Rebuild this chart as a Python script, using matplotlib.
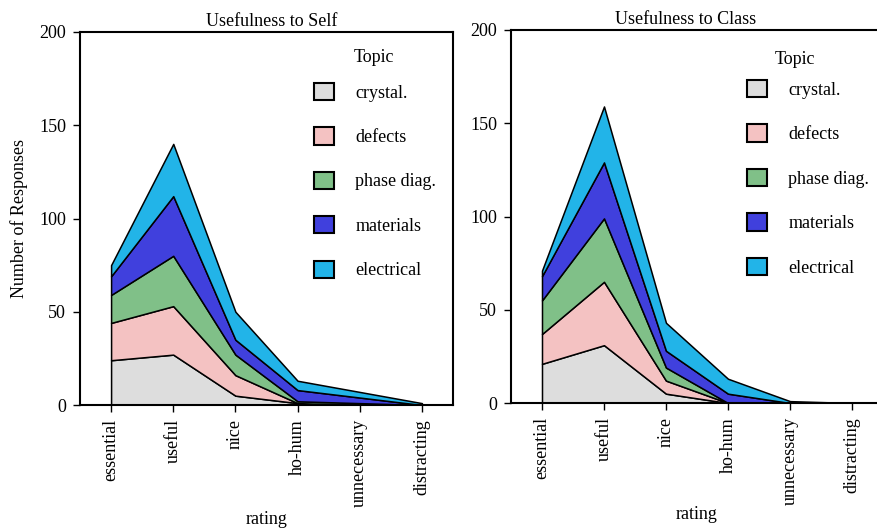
import matplotlib
matplotlib.use("Agg")
import matplotlib.pyplot as plt
from matplotlib.patches import Patch
import numpy as np

ratings = ["essential", "useful", "nice", "ho-hum", "unnecessary", "distracting"]
topics = ["crystal.", "defects", "phase diag.", "materials", "electrical"]
colors = ["#DDDDDD", "#F4C2C2", "#80C088", "#4040DD", "#22B4E8"]

# Usefulness to Self (counts per topic per rating)
self_crystal = [24, 27, 5, 1, 0, 0]
self_defects = [20, 26, 11, 0, 0, 0]
self_phase = [15, 27, 11, 1, 1, 0]
self_materials = [10, 32, 8, 6, 3, 0]
self_electrical = [6, 28, 15, 5, 3, 1]

# Usefulness to Class
class_crystal = [21, 31, 5, 0, 0, 0]
class_defects = [16, 34, 7, 0, 0, 0]
class_phase = [18, 34, 7, 0, 0, 0]
class_materials = [13, 30, 9, 5, 0, 0]
class_electrical = [3, 30, 15, 8, 1, 0]

plt.rcParams['font.family'] = ['Liberation Serif', 'DejaVu Serif']
FS = 13

W, H = 878, 531
fig = plt.figure(figsize=(W / 100, H / 100), dpi=100)


def px_axes(x0, x1, ytop, ybot):
    return fig.add_axes([x0 / W, (H - ybot) / H, (x1 - x0) / W, (ybot - ytop) / H])


def draw(ax, series, title, title_x, legend_x, legend_y, topic_x, topic_y, ylabel, xlab_y):
    x = np.arange(1, len(ratings) + 1)
    ax.stackplot(x, *series, colors=colors, edgecolor="black", linewidth=1.1)
    ax.set_xlim(0.5, 6.5)
    ax.set_ylim(0, 200)
    ax.set_yticks([0, 50, 100, 150, 200])
    ax.set_xticks(x)
    ax.set_xticklabels(ratings, rotation=90, fontsize=FS)
    ax.tick_params(axis="y", labelsize=FS, length=5, width=1, pad=5)
    ax.tick_params(axis="x", length=5, width=1, pad=5)
    for s in ax.spines.values():
        s.set_linewidth(1.5)
    ax.set_xlabel("rating", fontsize=FS)
    ax.xaxis.set_label_coords(0.5, xlab_y)
    if ylabel:
        ax.set_ylabel("Number of Responses", fontsize=FS)
        ax.yaxis.set_label_coords(-0.14, 0.5)
    ax.set_title(title, fontsize=FS, x=title_x, pad=4)
    handles = [Patch(facecolor=c, edgecolor="black", linewidth=1.5) for c in colors]
    ax.legend(handles, topics, loc="upper left", bbox_to_anchor=(legend_x, legend_y),
              frameon=False, fontsize=FS, handlelength=1.1, handleheight=1.1,
              labelspacing=1.42, handletextpad=1.2, borderpad=0, borderaxespad=0)
    ax.text(topic_x, topic_y, "Topic", transform=ax.transAxes, fontsize=FS,
            ha="left", va="center")


ax1 = px_axes(80, 453, 32, 405)
draw(ax1, [self_crystal, self_defects, self_phase, self_materials, self_electrical],
     "Usefulness to Self", 0.515, 0.627, 0.864, 0.735, 0.932, True, -0.285)
ax2 = px_axes(511, 883, 30, 403)
draw(ax2, [class_crystal, class_defects, class_phase, class_materials, class_electrical],
     "Usefulness to Class", 0.47, 0.634, 0.866, 0.71, 0.922, False, -0.275)

fig.savefig("out.png", dpi=100)
